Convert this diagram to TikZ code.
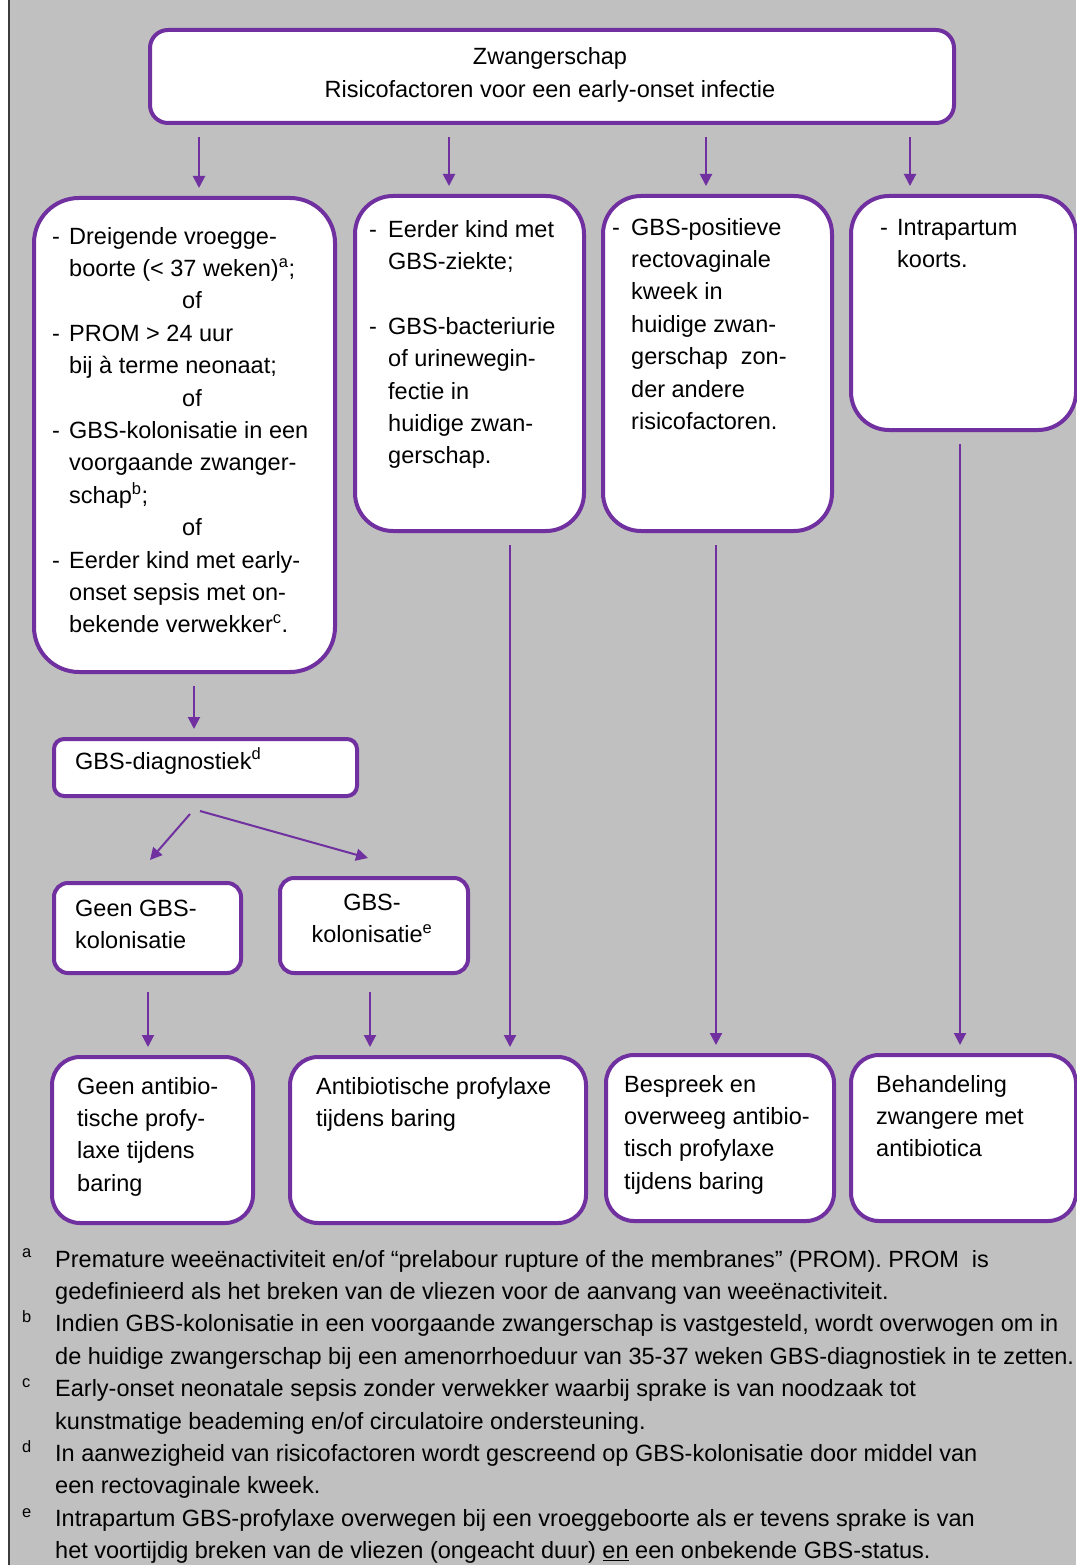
\documentclass[tikz,border=0pt]{standalone}
\usepackage{fontspec}
\setmainfont{Liberation Sans}
\usepackage{tikz}
\usetikzlibrary{arrows.meta,positioning,calc}
\usepackage{xcolor}
\definecolor{Paars}  {RGB}{112, 48, 160}
\definecolor{GrijsA} {RGB}{192,192,192}
\definecolor{RandD}  {RGB}{ 60, 60, 60}
\newcommand{\noot}[1]{\textsuperscript{#1}}
\newcommand{\ofregel}{\multicolumn{2}{@{}l@{}}{\hspace*{130pt}of}}

\begin{document}
\begin{tikzpicture}[x=1pt,y=-1pt,
    box/.style={draw=Paars,line width=4pt,fill=white,rounded corners=#1,
      anchor=north west,inner sep=0pt},
    box/.default=28pt,
    txt/.style={anchor=base west,inner sep=0pt,
      font=\fontsize{23.5}{32.4}\selectfont},
    arr/.style={-{Triangle[length=12pt,width=12pt]},Paars,line width=2pt,
      shorten <=12pt,shorten >=8pt}]
  \useasboundingbox (0,0) rectangle (1076,1565);
  \fill[GrijsA] (10,0) rectangle (1076,1565);
  \draw[RandD,line width=2pt] (9,0) -- (9,1565);

  \node[box=18pt,minimum width=804pt,minimum height=93pt] (zwanger) at (148,28) {};
  \node[box=45pt,minimum width=301pt,minimum height=474pt] (risk1) at (32,196) {};
  \node[box=38pt,minimum width=229pt,minimum height=335pt] (risk2) at (353,194) {};
  \node[box=38pt,minimum width=229pt,minimum height=335pt] (risk3) at (601,194) {};
  \node[box=38pt,minimum width=225pt,minimum height=234pt] (risk4) at (849,194) {};
  \node[box=10pt,minimum width=303pt,minimum height=57pt] (diag) at (52,737) {};
  \node[box=14pt,minimum width=187pt,minimum height=90pt] (neg) at (52,881) {};
  \node[box=14pt,minimum width=188pt,minimum height=95pt] (pos) at (278,876) {};
  \node[box,minimum width=201pt,minimum height=166pt] (geen) at (50,1055) {};
  \node[box,minimum width=296pt,minimum height=166pt] (profyl) at (288,1055) {};
  \node[box,minimum width=228pt,minimum height=166pt] (bespreek) at (604,1053) {};
  \node[box,minimum width=225pt,minimum height=166pt] (behandel) at (849,1053) {};

  \node[txt,anchor=base] (zwangerTxt) at (550,65) {\begin{tabular}[t]{@{}c@{}}
    Zwangerschap\\ Risicofactoren voor een early-onset infectie\end{tabular}};
  \node[txt] (risk1Txt) at (52,244) {\begin{tabular}[t]{@{}p{17pt}@{}l@{}}
    - & Dreigende vroegge-\\ & boorte (< 37 weken)\noot{a};\\ \ofregel\\
    - & PROM > 24 uur\\ & bij à terme neonaat;\\ \ofregel\\
    - & GBS-kolonisatie in een\\ & voorgaande zwanger-\\ & schap\noot{b};\\ \ofregel\\
    - & Eerder kind met early-\\ & onset sepsis met on-\\ & bekende verwekker\noot{c}.
    \end{tabular}};
  \node[txt] (risk2Txt) at (369,237) {\begin{tabular}[t]{@{}p{19pt}@{}l@{}}
    - & Eerder kind met\\ & GBS-ziekte;\\ & \\
    - & GBS-bacteriurie\\ & of urinewegin-\\ & fectie in\\ & huidige zwan-\\ & gerschap.
    \end{tabular}};
  \node[txt] (risk3Txt) at (612,235) {\begin{tabular}[t]{@{}p{19pt}@{}l@{}}
    - & GBS-positieve\\ & rectovaginale\\ & kweek in\\ & huidige zwan-\\
    & gerschap\ \ zon-\\ & der andere\\ & risicofactoren.
    \end{tabular}};
  \node[txt] (risk4Txt) at (880,235) {\begin{tabular}[t]{@{}p{17pt}@{}l@{}}
    - & Intrapartum\\ & koorts.\end{tabular}};
  \node[txt] (diagTxt) at (75,769) {GBS-diagnostiek\noot{d}};
  \node[txt] (negTxt) at (75,916) {\begin{tabular}[t]{@{}l@{}}
    Geen GBS-\\ kolonisatie\end{tabular}};
  \node[txt,anchor=base] (posTxt) at (372,910) {\begin{tabular}[t]{@{}c@{}}
    GBS-\\ kolonisatie\noot{e}\end{tabular}};
  \node[txt] (geenTxt) at (77,1094) {\begin{tabular}[t]{@{}l@{}}
    Geen antibio-\\ tische profy-\\ laxe tijdens\\ baring\end{tabular}};
  \node[txt] (profylTxt) at (316,1094) {\begin{tabular}[t]{@{}l@{}}
    Antibiotische profylaxe\\ tijdens baring\end{tabular}};
  \node[txt] (bespreekTxt) at (624,1092) {\begin{tabular}[t]{@{}l@{}}
    Bespreek en\\ overweeg antibio-\\ tisch profylaxe\\ tijdens baring\end{tabular}};
  \node[txt] (behandelTxt) at (876,1092) {\begin{tabular}[t]{@{}l@{}}
    Behandeling\\ zwangere met\\ antibiotica\end{tabular}};

  \node[txt] (noten) at (22,1267) {\begin{tabular}[t]{@{}p{33pt}@{}l@{}}
    \noot{a} & Premature weeënactiviteit en/of ``prelabour rupture of the membranes'' (PROM). PROM\ \ is\\
    & gedefinieerd als het breken van de vliezen voor de aanvang van weeënactiviteit.\\
    \noot{b} & Indien GBS-kolonisatie in een voorgaande zwangerschap is vastgesteld, wordt overwogen om in\\
    & de huidige zwangerschap bij een amenorrhoeduur van 35-37 weken GBS-diagnostiek in te zetten.\\
    \noot{c} & Early-onset neonatale sepsis zonder verwekker waarbij sprake is van noodzaak tot\\
    & kunstmatige beademing en/of circulatoire ondersteuning.\\
    \noot{d} & In aanwezigheid van risicofactoren wordt gescreend op GBS-kolonisatie door middel van\\
    & een rectovaginale kweek.\\
    \noot{e} & Intrapartum GBS-profylaxe overwegen bij een vroeggeboorte als er tevens sprake is van\\
    & het voortijdig breken van de vliezen (ongeacht duur) \underline{en} een onbekende GBS-status.
    \end{tabular}};

  \foreach \doel/\xa/\xb in {risk1/51/167,risk2/301/96,risk3/558/105,risk4/762/61}
    \draw[arr] ([xshift=\xa pt]zwanger.south west) -- ([xshift=\xb pt]\doel.north west);
  \draw[arr] ([xshift=162pt]risk1.south west) -- ([xshift=142pt]diag.north west);
  \draw[arr,shorten <=0pt,shorten >=0pt] ([xshift=138pt,yshift=-16pt]diag.south west)
    -- ([xshift=98pt,yshift=21pt]neg.north west);
  \draw[arr,shorten <=0pt,shorten >=0pt] ([xshift=148pt,yshift=-13pt]diag.south west)
    -- ([xshift=90pt,yshift=18pt]pos.north west);
  \draw[arr,shorten <=17pt] ([xshift=96pt]neg.south west) -- ([xshift=98pt]geen.north west);
  \draw[arr,shorten <=17pt] ([xshift=92pt]pos.south west) -- ([xshift=82pt]profyl.north west);
  \draw[arr] ([xshift=157pt]risk2.south west) -- ([xshift=222pt]profyl.north west);
  \draw[arr] ([xshift=115pt]risk3.south west) -- ([xshift=112pt]bespreek.north west);
  \draw[arr] ([xshift=111pt]risk4.south west) -- ([xshift=111pt]behandel.north west);
\end{tikzpicture}
\end{document}
